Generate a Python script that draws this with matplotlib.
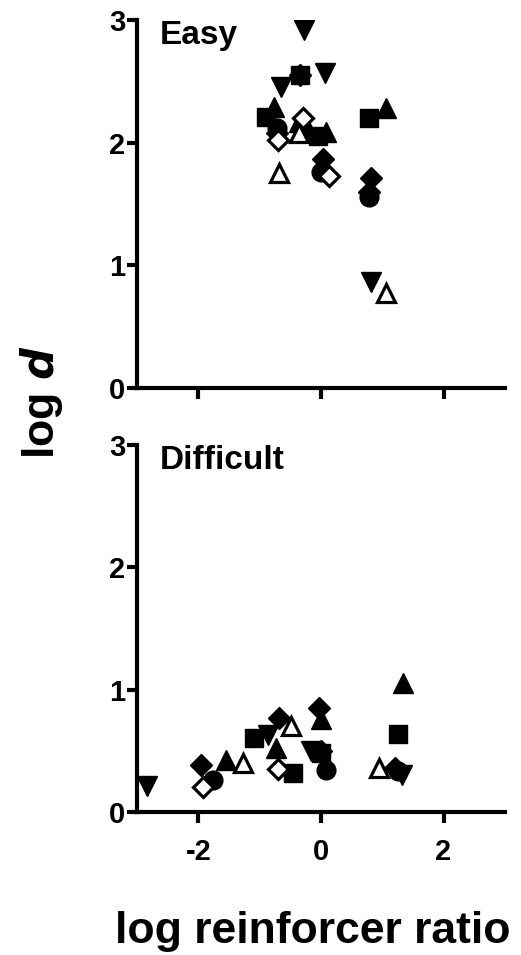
import matplotlib
matplotlib.use("Agg")
import matplotlib.pyplot as plt

plt.rcParams['font.family'] = ['Liberation Sans', 'DejaVu Sans']
plt.rcParams['font.weight'] = 'bold'

# marker styles for each series (filled / open)
series = ['down', 'square', 'up', 'circle', 'diamond', 'open_up', 'open_diamond']

# Easy condition: log reinforcer ratio (x) and log d (y)
easy_x = {
    'down': [-0.65, -0.28, 0.07, 0.82],
    'square': [-0.90, -0.34, -0.05, 0.78],
    'up': [-0.77, -0.36, 0.08, 1.06],
    'circle': [-0.72, -0.30, 0.00, 0.78],
    'diamond': [-0.72, -0.34, 0.03, 0.82, 0.78],
    'open_up': [-0.69, -0.36, 1.06],
    'open_diamond': [-0.70, -0.29, 0.13],
}
easy_y = {
    'down': [2.45, 2.92, 2.57, 0.86],
    'square': [2.21, 2.55, 2.05, 2.20],
    'up': [2.29, 2.17, 2.09, 2.28],
    'circle': [2.12, 2.10, 1.76, 1.56],
    'diamond': [2.08, 2.55, 1.87, 1.71, 1.60],
    'open_up': [1.75, 2.08, 0.77],
    'open_diamond': [2.02, 2.20, 1.73],
}

# Difficult condition
diff_x = {
    'down': [-2.83, -0.87, -0.16, 1.33],
    'square': [-1.09, -0.46, 0.00, 1.25],
    'up': [-1.55, -0.73, 0.00, 1.34],
    'circle': [-1.76, 0.08, 1.25],
    'diamond': [-1.96, -0.68, -0.03, 0.00, 1.20],
    'open_up': [-1.27, -0.49, 0.95],
    'open_diamond': [-1.93, -0.70],
}
diff_y = {
    'down': [0.21, 0.63, 0.50, 0.30],
    'square': [0.60, 0.32, 0.48, 0.64],
    'up': [0.42, 0.52, 0.76, 1.05],
    'circle': [0.26, 0.34, 0.33],
    'diamond': [0.38, 0.77, 0.85, 0.50, 0.36],
    'open_up': [0.40, 0.70, 0.36],
    'open_diamond': [0.20, 0.35],
}

styles = {
    'down': dict(marker='v', ms=14, mfc='black', mec='black'),
    'square': dict(marker='s', ms=13, mfc='black', mec='black'),
    'up': dict(marker='^', ms=14, mfc='black', mec='black'),
    'circle': dict(marker='o', ms=13.5, mfc='black', mec='black'),
    'diamond': dict(marker='D', ms=11, mfc='black', mec='black'),
    'open_up': dict(marker='^', ms=12.5, mfc='white', mec='black', mew=2.3),
    'open_diamond': dict(marker='D', ms=10.5, mfc='white', mec='black', mew=2.3),
}

fig = plt.figure(figsize=(5.21, 9.55), dpi=100)
ax1 = fig.add_axes([0.263, 0.594, 0.706, 0.385])
ax2 = fig.add_axes([0.263, 0.150, 0.706, 0.384])

panels = [(ax1, easy_x, easy_y, 'Easy'), (ax2, diff_x, diff_y, 'Difficult')]
for ax, xs, ys, name in panels:
    for s in series:
        ax.plot(xs[s], ys[s], linestyle='none', **styles[s])
    ax.set_xlim(-3, 3)
    ax.set_ylim(0, 3)
    ax.spines['top'].set_visible(False)
    ax.spines['right'].set_visible(False)
    ax.spines['left'].set_linewidth(3)
    ax.spines['bottom'].set_linewidth(3)
    ax.set_yticks([0, 1, 2, 3])
    ax.set_xticks([-2, 0, 2])
    ax.tick_params(axis='y', length=7, width=3, pad=1.5, labelsize=21)
    ax.tick_params(axis='x', length=8, width=3, pad=11, labelsize=21)
    ax.text(0.063, 0.935, name, transform=ax.transAxes, fontsize=24,
            fontweight='bold', va='baseline', ha='left')

ax1.set_xticklabels([])
ax2.set_xticklabels(['-2', '0', '2'])
for ax in (ax1, ax2):
    for lab in ax.get_yticklabels() + ax.get_xticklabels():
        lab.set_fontweight('bold')

fig.text(0.079, 0.579, 'log $\\mathbfit{d}$', rotation=90, fontsize=32,
         fontweight='bold', ha='center', va='center')
fig.text(0.60, 0.013, 'log reinforcer ratio', fontsize=32,
         fontweight='bold', ha='center', va='baseline')

fig.savefig('out.png', dpi=100)
